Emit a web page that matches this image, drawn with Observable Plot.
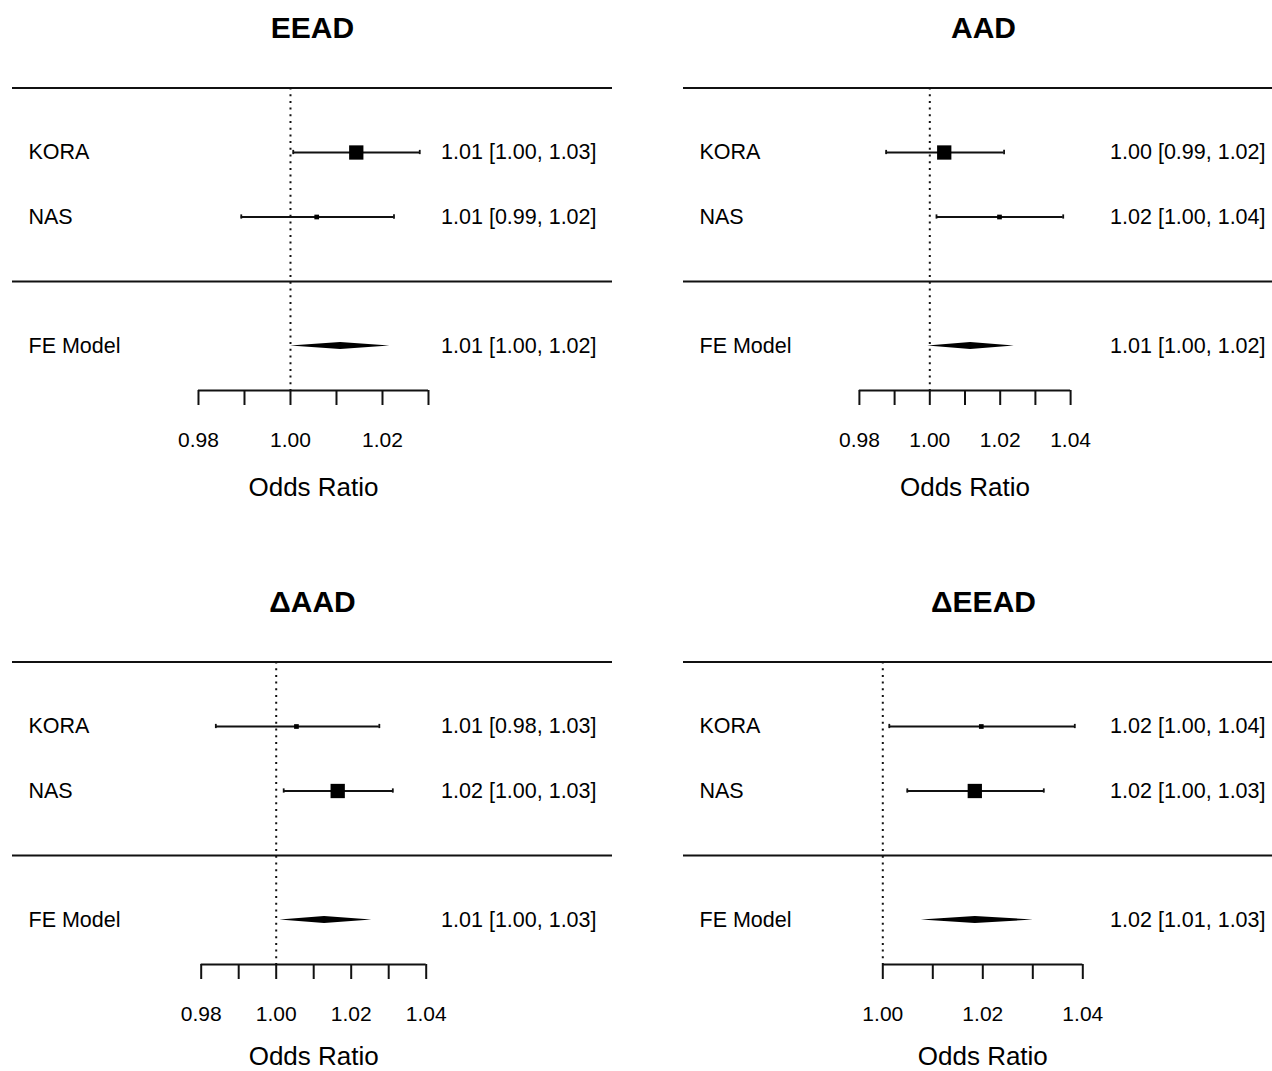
<!DOCTYPE html>
<html>
<head>
<meta charset="utf-8">
<script src="https://cdn.jsdelivr.net/npm/d3@7"></script>
<script src="https://cdn.jsdelivr.net/npm/@observablehq/plot@0.6"></script>
<style>
  html, body { margin: 0; padding: 0; background: #fff; }
  #wrap { position: relative; width: 1272px; height: 1071px; overflow: hidden; background: #fff; }
  #wrap > svg { position: absolute; }
</style>
</head>
<body>
<div id="wrap"></div>
<script>
// ---------- data ----------
const panelTitles = ["EEAD", "AAD", "ΔAAD", "ΔEEAD"];
const studies = ["KORA", "NAS"];
const summaryLabel = "FE Model";
const xLabel = "Odds Ratio";

// study estimates (odds ratios) per panel: [KORA, NAS]
const studyEst = [[1.0143, 1.0057], [1.0041, 1.0198], [1.0054, 1.0164], [1.0197, 1.0184]];
const studyLo  = [[1.0006, 0.9893], [0.9876, 1.0019], [0.9839, 1.0020], [1.0013, 1.0049]];
const studyHi  = [[1.0281, 1.0225], [1.0211, 1.0379], [1.0275, 1.0311], [1.0384, 1.0322]];
const studyWeight = [[59.3, 40.7], [53.6, 46.4], [30.8, 69.2], [35.1, 64.9]];

// fixed-effect summary per panel
const feEst = [1.0109, 1.0116, 1.0129, 1.0185];
const feLo  = [1.0000, 0.9994, 1.0010, 1.0077];
const feHi  = [1.0216, 1.0240, 1.0255, 1.0301];

// axis limits and ticks
const xLimits = [[0.93957, 1.07], [0.93003, 1.10048], [0.92968, 1.08968], [0.96014, 1.08014]];
const axisTicks = [
  [0.98, 0.99, 1.00, 1.01, 1.02, 1.03],
  [0.98, 0.99, 1.00, 1.01, 1.02, 1.03, 1.04],
  [0.98, 0.99, 1.00, 1.01, 1.02, 1.03, 1.04],
  [1.00, 1.01, 1.02, 1.03, 1.04]
];
const axisTickLabels = [
  ["0.98", "1.00", "1.02"],
  ["0.98", "1.00", "1.02", "1.04"],
  ["0.98", "1.00", "1.02", "1.04"],
  ["1.00", "1.02", "1.04"]
];

// ---------- layout ----------
const studyRows = [2, 1];
const feRow = -1;
const separatorRows = [3, 0];
const axisRow = -1.69;
const panelBoxes = [
  {left: 0,   top: 0,   width: 636, height: 574, range: [12, 612], inset: 16, labelDy: 97},
  {left: 636, top: 0,   width: 636, height: 574, range: [47, 647], inset: 18, labelDy: 97},
  {left: 0,   top: 574, width: 636, height: 574, range: [12, 612], inset: 16, labelDy: 92},
  {left: 636, top: 574, width: 636, height: 574, range: [47, 647], inset: 18, labelDy: 92}
];
const font = "'Liberation Sans', Arial, Helvetica, sans-serif";
const fmt = v => v.toFixed(2);
const ink = "#111";

const wrap = document.getElementById("wrap");

panelTitles.forEach((title, i) => {
  const box = panelBoxes[i];
  const xl = xLimits[i];
  const ticks = axisTicks[i];
  const labelSet = new Set(axisTickLabels[i]);
  const ws = studyWeight[i];
  const wMin = Math.min(...ws), wMax = Math.max(...ws);

  const rows = studies.map((s, j) => {
    const w = ws[j];
    const t = wMax > wMin ? (w - wMin) / (wMax - wMin) : 1;
    const side = 4.7 + t * 9.6;
    return {
      label: s, row: studyRows[j],
      est: studyEst[i][j], lo: studyLo[i][j], hi: studyHi[i][j],
      r: side / Math.sqrt(Math.PI),
      text: `${fmt(studyEst[i][j])} [${fmt(studyLo[i][j])}, ${fmt(studyHi[i][j])}]`
    };
  });
  const fe = {label: summaryLabel, row: feRow, est: feEst[i], lo: feLo[i], hi: feHi[i],
              text: `${fmt(feEst[i])} [${fmt(feLo[i])}, ${fmt(feHi[i])}]`};
  const dh = 0.056;
  const diamond = [
    {x: fe.lo, y1: fe.row, y2: fe.row},
    {x: fe.est, y1: fe.row - dh, y2: fe.row + dh},
    {x: fe.hi, y1: fe.row, y2: fe.row}
  ];
  const capH = 0.033;
  const allRows = [...rows, fe];

  const chart = Plot.plot({
    width: box.width,
    height: box.height,
    marginTop: 0,
    marginLeft: box.range[0],
    marginRight: 0,
    marginBottom: box.height - 390,
    style: {fontFamily: font, color: "black", background: "transparent", overflow: "hidden"},
    x: {domain: xl, range: box.range, axis: null},
    y: {domain: [3, -1], range: [87.5, 345.5], axis: null},
    r: {type: "linear", domain: [0, 20], range: [0, 20]},
    marks: [
      Plot.ruleY(separatorRows, {x1: xl[0], x2: xl[1], stroke: ink, strokeWidth: 2}),
      Plot.ruleX([1], {y1: 3, y2: axisRow, stroke: ink, strokeWidth: 2, strokeDasharray: "2,4.7"}),
      Plot.ruleY(rows, {y: "row", x1: "lo", x2: "hi", stroke: ink, strokeWidth: 1.8}),
      Plot.ruleX(rows, {x: "lo", y1: d => d.row - capH, y2: d => d.row + capH, stroke: ink, strokeWidth: 1.8}),
      Plot.ruleX(rows, {x: "hi", y1: d => d.row - capH, y2: d => d.row + capH, stroke: ink, strokeWidth: 1.8}),
      Plot.dot(rows, {x: "est", y: "row", r: "r", symbol: "square", fill: "black", stroke: "none"}),
      Plot.areaY(diamond, {x: "x", y1: "y1", y2: "y2", fill: "black", curve: "linear"}),
      Plot.text(allRows, {x: xl[0], y: "row", text: "label", textAnchor: "start", dx: 16, fontSize: 21.5, fill: "black"}),
      Plot.text(allRows, {x: xl[1], y: "row", text: "text", textAnchor: "end", dx: -box.inset, fontSize: 21.5, fill: "black"}),
      Plot.ruleY([axisRow], {x1: ticks[0], x2: ticks[ticks.length - 1], stroke: ink, strokeWidth: 2}),
      Plot.axisX(ticks, {
        anchor: "bottom", tickSize: 15, tickPadding: 27, label: null,
        tickFormat: d => labelSet.has(fmt(d)) ? fmt(d) : "",
        fontSize: 21, stroke: ink, strokeWidth: 2, fill: "black"
      }),
      Plot.text([title], {x: (xl[0] + xl[1]) / 2, frameAnchor: "top", lineAnchor: "middle", dy: 28, fontSize: 30, fontWeight: "bold", fill: "black"}),
      Plot.text([xLabel], {x: (ticks[0] + ticks[ticks.length - 1]) / 2, frameAnchor: "bottom", lineAnchor: "middle", dy: box.labelDy, fontSize: 26, fill: "black"})
    ]
  });
  chart.style.left = box.left + "px";
  chart.style.top = box.top + "px";
  wrap.appendChild(chart);
});
</script>
</body>
</html>
